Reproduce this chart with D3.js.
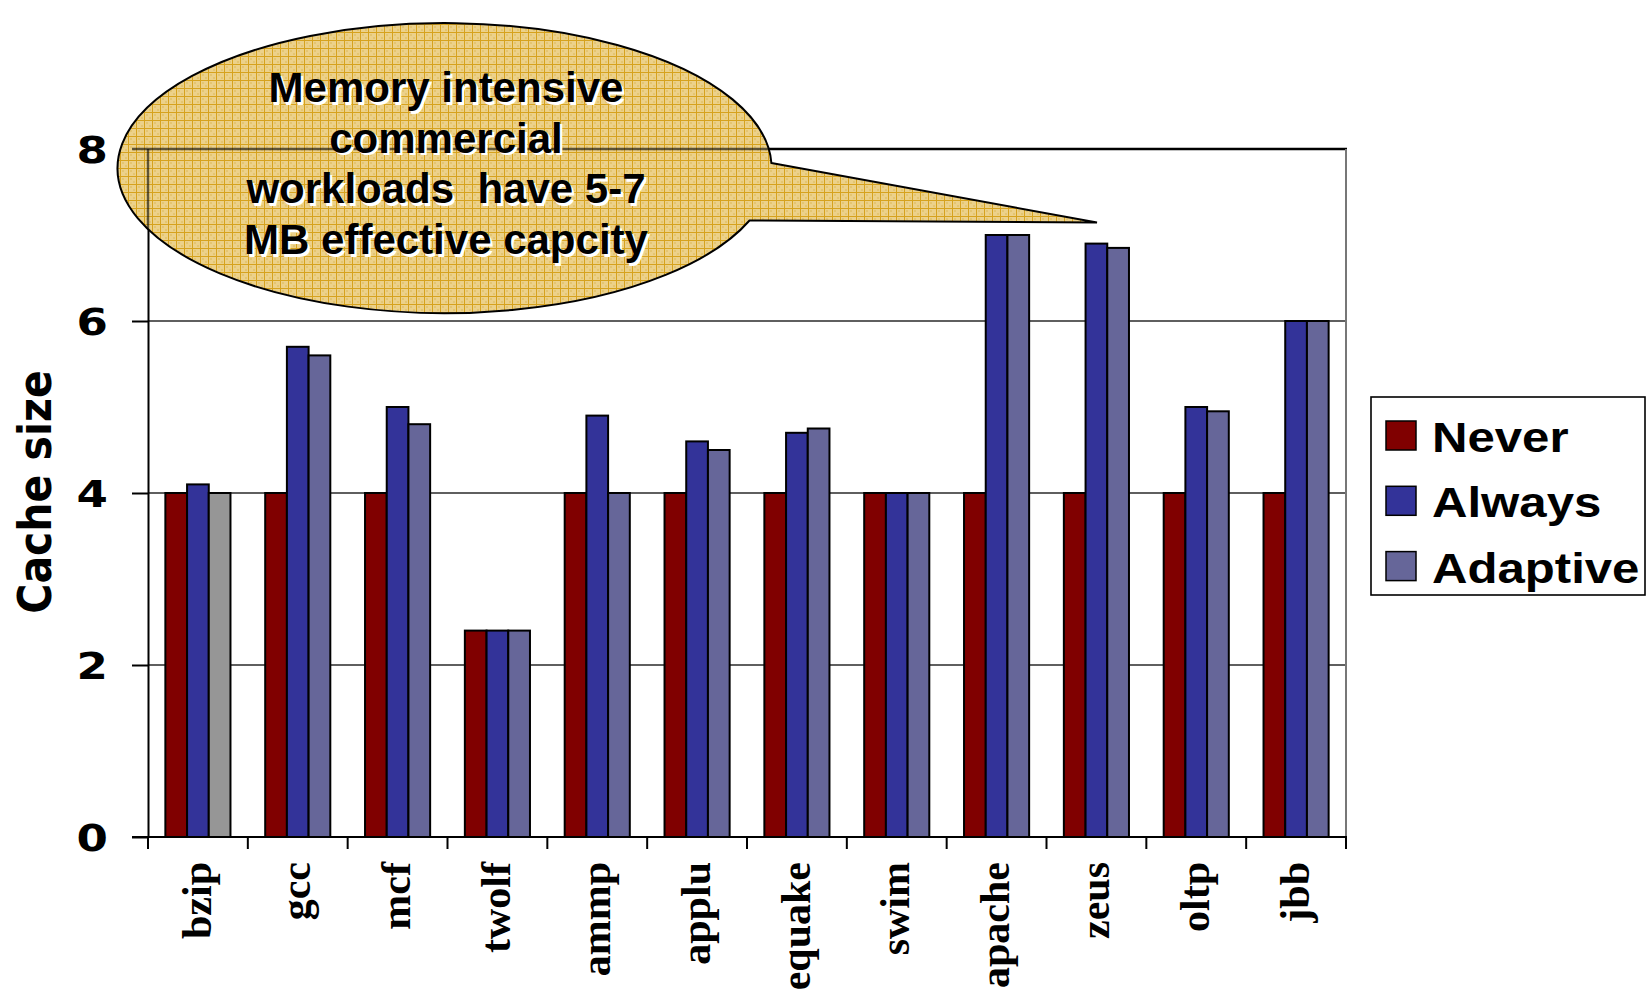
<!DOCTYPE html>
<html>
<head>
<meta charset="utf-8">
<script src="https://cdn.jsdelivr.net/npm/d3@7"></script>
<style>
  html, body { margin: 0; padding: 0; background: #fff; }
  svg { display: block; }
</style>
</head>
<body>
<svg id="chart" width="1646" height="995"></svg>
<script>
// Benchmarks and effective cache size per replacement policy
const categories = ["bzip", "gcc", "mcf", "twolf", "ammp", "applu", "equake", "swim", "apache", "zeus", "oltp", "jbb"];
const seriesNames = ["Never", "Always", "Adaptive"];
const neverValues = [4, 4, 4, 2.4, 4, 4, 4, 4, 4, 4, 4, 4];
const alwaysValues = [4.1, 5.7, 5.0, 2.4, 4.9, 4.6, 4.7, 4.0, 7.0, 6.9, 5.0, 6.0];
const adaptiveValues = [4.0, 5.6, 4.8, 2.4, 4.0, 4.5, 4.75, 4.0, 7.0, 6.85, 4.95, 6.0];
const yTicks = [0, 2, 4, 6, 8];
const calloutLines = ["Memory intensive", "commercial", "workloads\u00a0 have 5-7", "MB effective capcity"];

const colors = { Never: "#800000", Always: "#333399", Adaptive: "#666699" };
const specialFill = { "bzip|Adaptive": "#969696" };

const svg = d3.select("#chart");
const plot = { left: 148, right: 1346, top: 149, bottom: 837 };

const x0 = d3.scaleBand().domain(categories).range([plot.left, plot.right]).padding(0);
const bw = x0.bandwidth();
const barW = bw / 4.6;
const groupOff = (bw - 3 * barW) / 2;
const x1 = d3.scaleBand().domain(seriesNames).range([groupOff, groupOff + 3 * barW]).padding(0);
const y = d3.scaleLinear().domain([0, 8]).range([plot.bottom, plot.top]);

const valuesBySeries = { Never: neverValues, Always: alwaysValues, Adaptive: adaptiveValues };
const rows = categories.map((c, i) => ({
  cat: c,
  vals: seriesNames.map(s => ({ series: s, value: valuesBySeries[s][i] }))
}));

// Horizontal gridlines (2, 4, 6)
svg.append("g").selectAll("line").data(yTicks.filter(t => t > 0 && t < 8)).join("line")
  .attr("x1", plot.left).attr("x2", plot.right)
  .attr("y1", d => y(d)).attr("y2", d => y(d))
  .attr("stroke", "#2a2a2a").attr("stroke-width", 1.6);

// Bars
const groups = svg.append("g").selectAll("g").data(rows).join("g")
  .attr("transform", d => `translate(${x0(d.cat)},0)`);
groups.selectAll("rect").data(d => d.vals.map(v => ({ ...v, cat: d.cat }))).join("rect")
  .attr("x", d => x1(d.series))
  .attr("y", d => y(d.value))
  .attr("width", x1.bandwidth())
  .attr("height", d => y(0) - y(d.value))
  .attr("fill", d => specialFill[d.cat + "|" + d.series] || colors[d.series])
  .attr("stroke", "#000").attr("stroke-width", 2);

// Frame: top and right edges
svg.append("line").attr("x1", plot.left).attr("x2", plot.right + 1)
  .attr("y1", plot.top).attr("y2", plot.top).attr("stroke", "#000").attr("stroke-width", 2.4);
svg.append("line").attr("x1", plot.right).attr("x2", plot.right)
  .attr("y1", plot.top).attr("y2", plot.bottom).attr("stroke", "#777").attr("stroke-width", 2);

// Y axis
const labelStretch = 1.22;
const yAxis = svg.append("g").attr("transform", `translate(${plot.left},0)`)
  .call(d3.axisLeft(y).tickValues(yTicks).tickSize(16).tickSizeOuter(0).tickFormat(d3.format("d")));
yAxis.select(".domain").attr("stroke", "#000").attr("stroke-width", 2);
yAxis.selectAll(".tick line").attr("stroke", "#000").attr("stroke-width", 2);
yAxis.selectAll(".tick text")
  .attr("transform", `scale(${labelStretch},1)`)
  .attr("x", -40 / labelStretch).attr("dy", "0.36em")
  .attr("font-family", "DejaVu Sans, sans-serif").attr("font-weight", "bold")
  .attr("font-size", 37).attr("fill", "#000");

// X axis with ticks at category boundaries
const xAxisG = svg.append("g").attr("transform", `translate(0,${plot.bottom})`);
xAxisG.append("line").attr("x1", plot.left - 16).attr("x2", plot.right + 1)
  .attr("y1", 0).attr("y2", 0).attr("stroke", "#000").attr("stroke-width", 2);
const boundaries = categories.map(c => x0(c)).concat([plot.right]);
xAxisG.selectAll("line.tk").data(boundaries).join("line").attr("class", "tk")
  .attr("x1", d => d).attr("x2", d => d).attr("y1", 0).attr("y2", 12)
  .attr("stroke", "#000").attr("stroke-width", 2);
xAxisG.selectAll("text").data(categories).join("text")
  .attr("transform", d => `translate(${x0(d) + bw / 2},25) rotate(-90)`)
  .attr("dy", "0.3em")
  .attr("text-anchor", "end")
  .attr("font-family", "Liberation Serif, Times New Roman, serif")
  .attr("font-weight", "bold").attr("font-size", 42).attr("fill", "#000")
  .text(d => d);

// Y axis title
svg.append("text")
  .attr("transform", "translate(51,492) scale(1.12,1) rotate(-90)")
  .attr("text-anchor", "middle")
  .attr("font-family", "DejaVu Sans, sans-serif").attr("font-weight", "bold")
  .attr("font-size", 41).attr("fill", "#000")
  .text("Cache size");

// Legend
const legend = svg.append("g");
legend.append("rect").attr("x", 1371).attr("y", 397).attr("width", 274).attr("height", 198)
  .attr("fill", "#fff").attr("stroke", "#000").attr("stroke-width", 1.6);
const legendRows = legend.selectAll("g").data(seriesNames).join("g")
  .attr("transform", (d, i) => `translate(0,${i * 65.3})`);
legendRows.append("rect").attr("x", 1386).attr("y", 421).attr("width", 30).attr("height", 29)
  .attr("fill", d => colors[d]).attr("stroke", "#000").attr("stroke-width", 1.5);
legendRows.append("text")
  .attr("transform", "translate(1432,452) scale(1.17,1)")
  .attr("font-family", "Liberation Sans, Arial, sans-serif").attr("font-weight", "bold")
  .attr("font-size", 42).attr("fill", "#000")
  .text(d => d);

// Callout bubble
const defs = svg.append("defs");
const pat = defs.append("pattern").attr("id", "bubbleGrid")
  .attr("width", 8).attr("height", 8).attr("patternUnits", "userSpaceOnUse");
pat.append("rect").attr("width", 8).attr("height", 8).attr("fill", "#ecd18a");
pat.append("rect").attr("x", 2).attr("y", 2).attr("width", 2).attr("height", 2).attr("fill", "#e4c570");
pat.append("rect").attr("x", 5).attr("y", 5).attr("width", 2).attr("height", 2).attr("fill", "#e4c570");
pat.append("path").attr("d", "M0 0.5H8M0.5 0V8").attr("stroke", "#d6a21e").attr("stroke-width", 1);

const ell = { cx: 444.6, cy: 168, rx: 327, ry: 145 };
const bubblePath = `M771.4,163 L1097,222.5 L749.5,220.5 A${ell.rx},${ell.ry} 0 1 1 771.4,163 Z`;
defs.append("clipPath").attr("id", "bubbleClip").append("path").attr("d", bubblePath);

svg.append("path").attr("d", bubblePath)
  .attr("fill", "url(#bubbleGrid)").attr("stroke", "#000").attr("stroke-width", 2)
  .attr("stroke-linejoin", "miter");

// Axis lines showing through the bubble
const through = svg.append("g").attr("clip-path", "url(#bubbleClip)")
  .attr("stroke", "#000").attr("stroke-opacity", 0.6).attr("stroke-width", 2.4);
through.append("line").attr("x1", plot.left - 16).attr("x2", plot.right).attr("y1", plot.top).attr("y2", plot.top);
through.append("line").attr("x1", plot.left).attr("x2", plot.left).attr("y1", plot.top).attr("y2", plot.bottom);

// Callout text with white drop shadow
const baselines = [102, 152.5, 203, 254];
const textG = svg.append("g")
  .attr("font-family", "Liberation Sans, Arial, sans-serif").attr("font-weight", "bold")
  .attr("font-size", 42).attr("text-anchor", "middle");
textG.selectAll("text.sh").data(calloutLines).join("text").attr("class", "sh")
  .attr("x", 446 + 2.5).attr("y", (d, i) => baselines[i] + 2.5).attr("fill", "#fff").text(d => d);
textG.selectAll("text.fg").data(calloutLines).join("text").attr("class", "fg")
  .attr("x", 446).attr("y", (d, i) => baselines[i]).attr("fill", "#000").text(d => d);
</script>
</body>
</html>
